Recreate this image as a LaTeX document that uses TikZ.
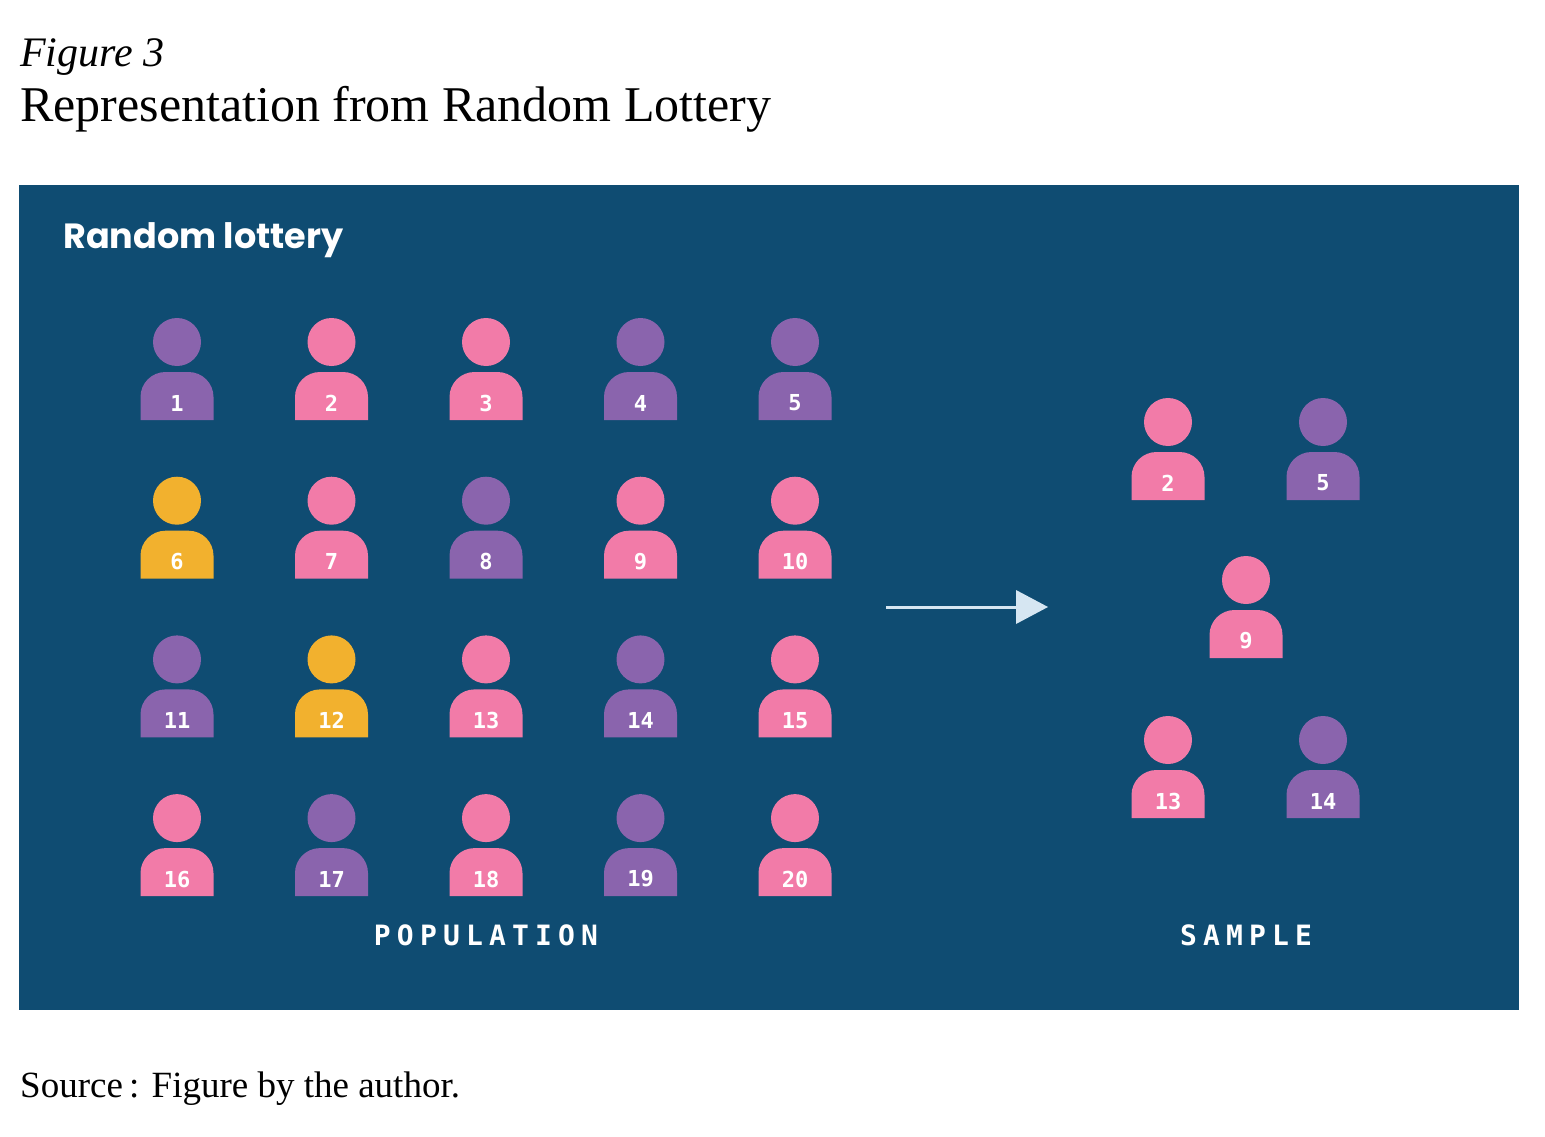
\documentclass[tikz,border=0pt]{standalone}
\usepackage{fontspec}
\setmainfont{Liberation Serif}
\newfontfamily\headfont{Poppins}
\newfontfamily\numfont{DejaVu Sans Mono Bold}
\newfontfamily\capfont[LetterSpace=22]{DejaVu Sans Mono Bold}
\usetikzlibrary{positioning}
\definecolor{panelblue}{HTML}{0F4C72}
\definecolor{ppurple}{HTML}{8A64AD}
\definecolor{ppink}{HTML}{F27BA8}
\definecolor{pyellow}{HTML}{F2B12E}
\definecolor{arrowblue}{HTML}{D6E6F2}
\tikzset{
  head/.style={circle, fill=#1, minimum size=48pt, inner sep=0pt},
  number/.style={text=white, font=\numfont\fontsize{22}{22}\selectfont},
  caption/.style={text=white, font=\capfont\fontsize{28}{28}\selectfont},
}
% one person: name, x, y of head, colour, number
\newcommand{\person}[5]{%
  \node[head=#4] (#1) at (#2,#3) {};
  \fill[#4] (#2-36.5,#3+78) -- (#2-36.5,#3+55) arc[start angle=180, end angle=90, radius=25pt]
     -- (#2+11.5,#3+30) arc[start angle=90, end angle=0, radius=25pt] -- (#2+36.5,#3+78) -- cycle;
  \node[number] (#1n) at (#2,#3+61) {#5};}
\begin{document}
\begin{tikzpicture}[x=1pt,y=-1pt]
	\useasboundingbox (0,0) rectangle (1545,1137);
	
	% titles
	\node[anchor=base west, inner sep=0pt, font=\itshape\fontsize{42}{42}\selectfont] (fig) at (20,67) {Figure 3};
	\node[anchor=base west, inner sep=0pt, font=\fontsize{50}{50}\selectfont] (title) at (20,122) {Representation from Random Lottery};
	
	% panel
	\fill[panelblue] (19,185) rectangle (1519,1010);
	\node[anchor=base west, inner sep=0pt, text=white, font=\headfont\bfseries\fontsize{35}{35}\selectfont] (lottery) at (63,248) {Random lottery};
	
	% population
	\foreach \n/\c [count=\i from 0] in {1/ppurple,2/ppink,3/ppink,4/ppurple,5/ppurple,
	                                     6/pyellow,7/ppink,8/ppurple,9/ppink,10/ppink,
	                                     11/ppurple,12/pyellow,13/ppink,14/ppurple,15/ppink,
	                                     16/ppink,17/ppurple,18/ppink,19/ppurple,20/ppink}{
		\pgfmathsetmacro{\px}{177+154.5*mod(\i,5)}
		\pgfmathsetmacro{\py}{342+158.7*floor(\i/5)}
		\person{p\n}{\px}{\py}{\c}{\n}
	}
	
	% sample
	\person{s2}{1168}{422}{ppink}{2}
	\person{s5}{1323}{422}{ppurple}{5}
	\person{s9}{1246}{580}{ppink}{9}
	\person{s13}{1168}{740}{ppink}{13}
	\person{s14}{1323}{740}{ppurple}{14}
	
	% arrow
	\coordinate (a1) at (886,607);
	\coordinate (a2) at (1048,607);
	\draw[arrowblue, line width=3pt] (a1) -- (1018,607);
	\fill[arrowblue] (1016,590) -- (a2) -- (1016,624) -- cycle;
	
	\node[caption] (pop) at (486,935) {POPULATION};
	\node[caption] (samp) at (1246,935) {SAMPLE};
	
	% source
	\node[anchor=base west, inner sep=0pt, font=\fontsize{37}{37}\selectfont] (src) at (20,1097) {Source\,: Figure by the author.};
\end{tikzpicture}
\end{document}
